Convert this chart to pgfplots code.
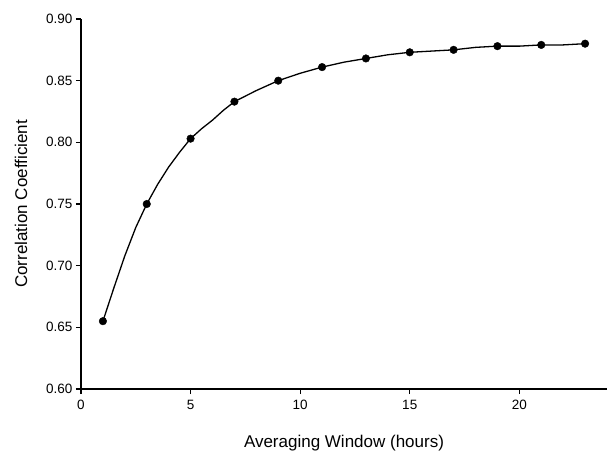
\documentclass[border=0pt]{standalone}
\usepackage{fontspec}
\setmainfont{Liberation Sans}
\usepackage{pgfplots}
\pgfplotsset{compat=1.18}

\begin{document}
\begin{tikzpicture}
\begin{axis}[
    scale only axis,
    width=526pt,
    height=370pt,
    xmin=0, xmax=24,
    ymin=0.6, ymax=0.9,
    axis x line*=bottom,
    axis y line*=left,
    axis line style={line width=1.5pt},
    tick align=outside,
    major tick length=5pt,
    tick style={line width=1.2pt, black},
    xtick={0,5,...,20},
    ytick={0.60,0.65,...,0.90},
    yticklabel style={/pgf/number format/fixed, /pgf/number format/precision=2,
        /pgf/number format/fixed zerofill},
    /pgf/number format/assume math mode=true,
    tick label style={font=\fontsize{13.5}{16}\selectfont},
    xticklabel style={yshift=-3pt},
    xlabel={Averaging Window (hours)},
    ylabel={Correlation Coefficient},
    every axis x label/.style={at={(axis description cs:0.5,-0.157)}, anchor=base,
        font=\fontsize{17}{20}\selectfont},
    every axis y label/.style={at={(axis description cs:-0.114,0.5)}, anchor=center,
        rotate=90, font=\fontsize{17}{20}\selectfont},
    clip=false,
]
% curve
\addplot[black, line width=1.3pt, no marks] coordinates {
(1,0.655) (1.5,0.682) (2,0.708) (2.5,0.731) (3,0.750) (3.5,0.766) (4,0.780)
(4.5,0.792) (5,0.803) (5.5,0.811) (6,0.818) (6.5,0.826) (7,0.833) (8,0.842)
(9,0.850) (10,0.856) (11,0.861) (12,0.865) (13,0.868) (14,0.871) (15,0.873)
(16,0.874) (17,0.875) (18,0.877) (19,0.878) (20,0.878) (21,0.879) (22,0.879) (23,0.880)
};
% markers at odd windows
\addplot[only marks, mark=*, mark size=3.8pt, black] coordinates {
(1,0.655) (3,0.750) (5,0.803) (7,0.833) (9,0.850) (11,0.861)
(13,0.868) (15,0.873) (17,0.875) (19,0.878) (21,0.879) (23,0.880)
};
\end{axis}
\pgfresetboundingbox
\path[use as bounding box] (-81pt,-62pt) rectangle (526pt,389pt);
\end{tikzpicture}
\end{document}
